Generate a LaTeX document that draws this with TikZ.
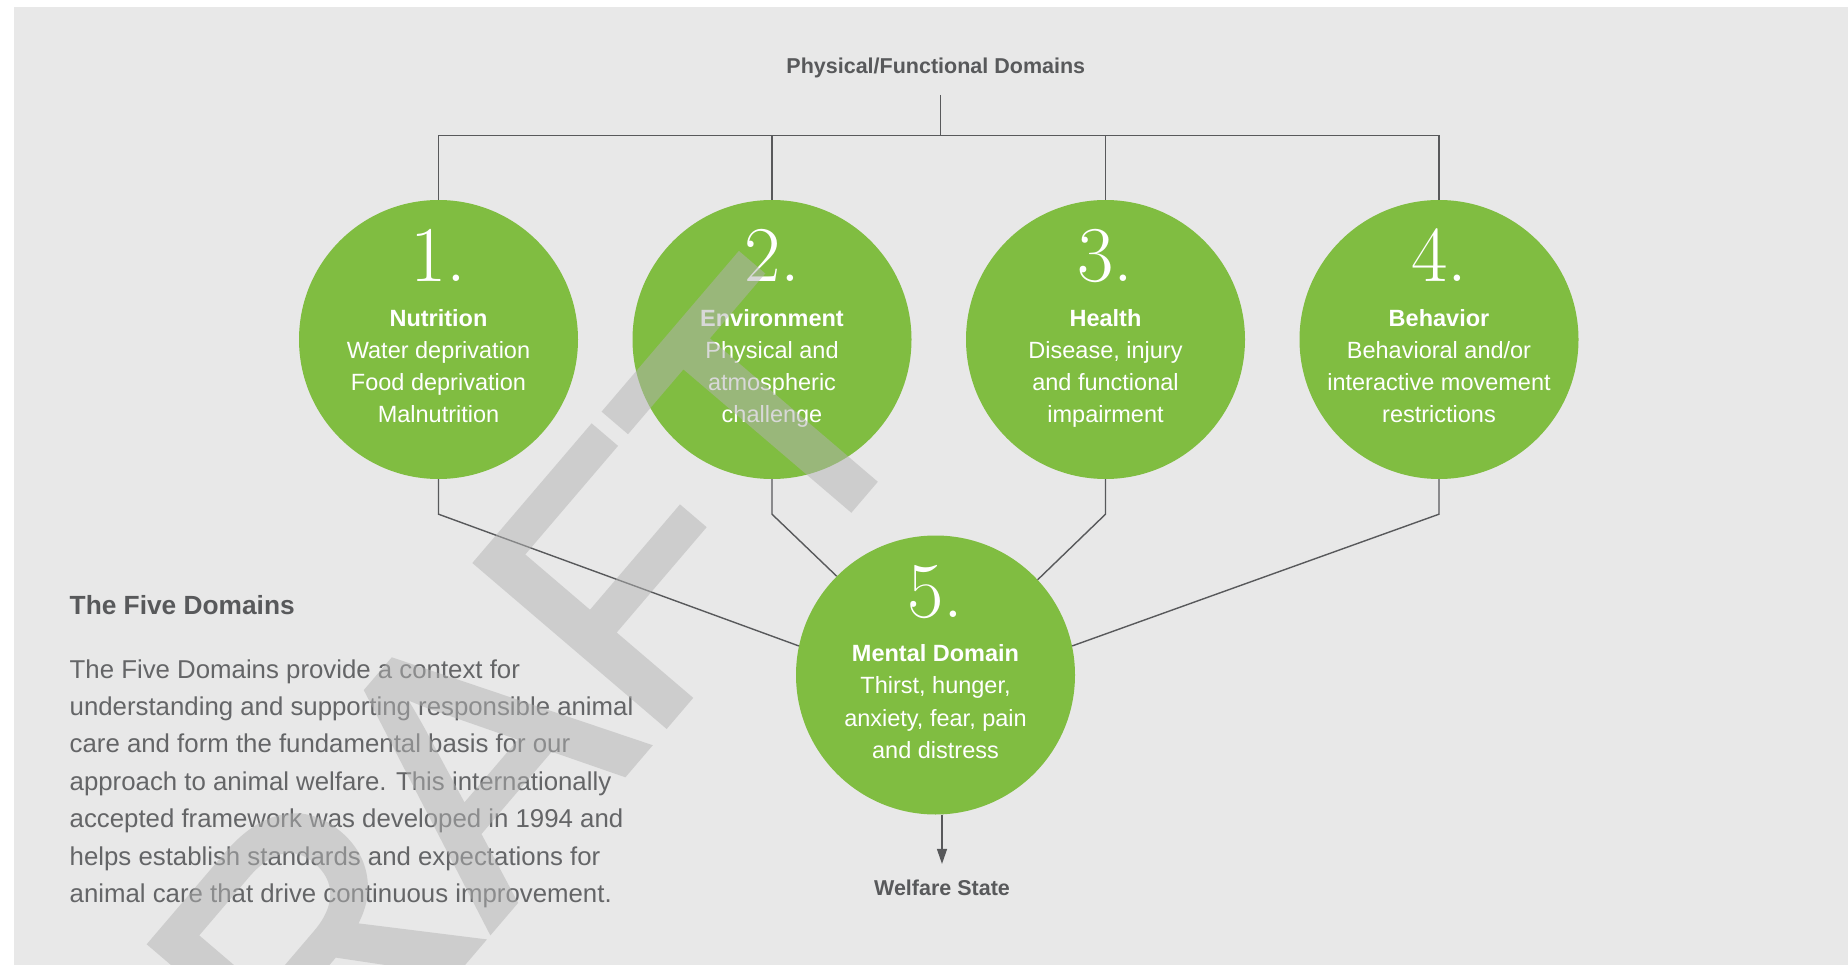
\documentclass[tikz,border=0pt]{standalone}
\usepackage{fontspec}
\setsansfont{Liberation Sans}
\newfontfamily\wmfont{Liberation Sans}[FakeBold=2]
\usetikzlibrary{arrows.meta,calc}
\definecolor{bggray}{HTML}{E8E8E8}
\definecolor{leaf}{HTML}{80BD41}
\definecolor{ink}{HTML}{58595B}
\definecolor{bodyink}{HTML}{646567}
\definecolor{wmgray}{HTML}{B3B3B3}

\begin{document}
\begin{tikzpicture}[x=1pt,y=-1pt,
  domaincircle/.style={circle, fill=leaf, minimum size=279pt, inner sep=0pt},
  numeral/.style={text=white, anchor=base, inner sep=0pt,
    font=\rmfamily\fontsize{79}{79}\selectfont},
  caption/.style={text=white, anchor=base, inner sep=0pt,
    font=\sffamily\fontsize{23.5}{32.3}\selectfont},
  conn/.style={draw=ink, line width=1.4pt},
  heading/.style={text=ink, inner sep=0pt, anchor=base,
    font=\sffamily\bfseries\fontsize{21.5}{21.5}\selectfont},
]
\useasboundingbox (0,0) rectangle (1848,965);
\fill[white] (0,0) rectangle (1848,965);
\fill[bggray] (14,7) rectangle (1848,965);

% the five domain circles
\node[domaincircle] (c1) at (438.5,339.5) {};
\node[domaincircle] (c2) at (772,339.5) {};
\node[domaincircle] (c3) at (1105.5,339.5) {};
\node[domaincircle] (c4) at (1439,339.5) {};
\node[domaincircle] (c5) at (935.5,675) {};

% numerals
\node[numeral] (n1) at ($(c1)+(0,-58)$) {1.};
\node[numeral] (n2) at ($(c2)+(0,-58)$) {2.};
\node[numeral] (n3) at ($(c3)+(0,-58)$) {3.};
\node[numeral] (n4) at ($(c4)+(0,-58)$) {4.};
\node[numeral] (n5) at ($(c5)+(0,-58)$) {5.};

% captions
\node[caption] (t1) at ($(c1)+(0,-13.4)$) {\parbox[t]{300pt}{\centering
  \textbf{Nutrition}\\Water deprivation\\Food deprivation\\Malnutrition}};
\node[caption] (t2) at ($(c2)+(0,-13.4)$) {\parbox[t]{300pt}{\centering
  \textbf{Environment}\\Physical and\\atmospheric\\challenge}};
\node[caption] (t3) at ($(c3)+(0,-13.4)$) {\parbox[t]{300pt}{\centering
  \textbf{Health}\\Disease, injury\\and functional\\impairment}};
\node[caption] (t4) at ($(c4)+(0,-13.4)$) {\parbox[t]{300pt}{\centering
  \textbf{Behavior}\\Behavioral and/or\\interactive movement\\restrictions}};
\node[caption] (t5) at ($(c5)+(0,-13.4)$) {\parbox[t]{300pt}{\centering
  \textbf{Mental Domain}\\Thirst, hunger,\\anxiety, fear, pain\\and distress}};

% top tree
\node[heading] (title) at (935.8,74) {Physical/Functional Domains};
\coordinate (trunk) at (940.5,95);
\coordinate (bar) at (940.5,135.5);
\draw[conn] (trunk) -- (bar);
\draw[conn] (c1.north) -- (c1.north |- bar) -- (c4.north |- bar) -- (c4.north);
\draw[conn] (c2.north) -- (c2.north |- bar);
\draw[conn] (c3.north) -- (c3.north |- bar);

% links into the mental domain
\draw[conn] (c1.south) -- ++(0,35) -- (c5.168);
\draw[conn] (c2.south) -- ++(0,35) -- (c5.135);
\draw[conn] (c3.south) -- ++(0,35) -- (c5.43);
\draw[conn] (c4.south) -- ++(0,35) -- (c5.12);

% outcome
\node[heading] (ws) at (942,895) {Welfare State};
\draw[conn, -{Triangle[length=15pt,width=10pt]}, shorten >=15.3pt]
  (c5.south -| ws) -- (ws.north);

% side text
\node[anchor=base west, inner sep=0pt, text=ink,
  font=\sffamily\bfseries\fontsize{26.3}{26.3}\selectfont] (head) at (69.5,614.5)
  {The Five Domains};
\node[anchor=base west, inner sep=0pt, text=bodyink,
  font=\sffamily\fontsize{25.8}{37.4}\selectfont] (body) at (69.5,678)
  {\parbox[t]{700pt}{\raggedright
  The Five Domains provide a context for\\
  understanding and supporting responsible animal\\
  care and form the fundamental basis for our\\
  approach to animal welfare. This internationally\\
  accepted framework was developed in 1994 and\\
  helps establish standards and expectations for\\
  animal care that drive continuous improvement.}};

% watermark, laid over everything as one translucent group
\begin{scope}[transparency group, opacity=0.5]
\node[rotate=49.5, anchor=base west, inner sep=0pt, text=wmgray,
  font=\wmfont\fontsize{361}{361}\selectfont] (wm) at (152,1326) {DRAFT};
\end{scope}
\end{tikzpicture}
\end{document}
